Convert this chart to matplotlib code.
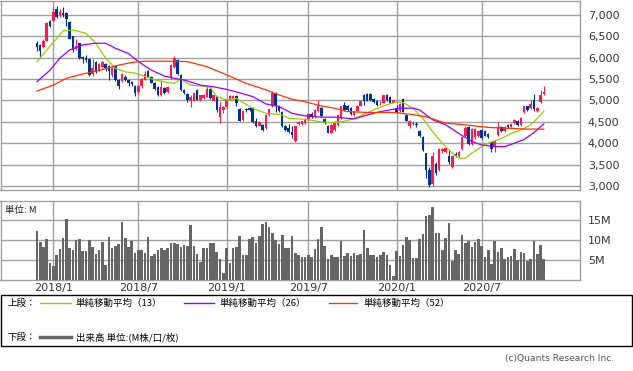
import pandas as pd
import matplotlib.pyplot as plt
from matplotlib.lines import Line2D
from matplotlib.patches import Rectangle

plt.rcParams['font.family'] = ['DejaVu Sans', 'Noto Sans CJK JP']

# weekly OHLC (yen)
opens = [6350, 6300, 6240, 6380, 6870, 6870, 7150, 7000, 7050, 7050,
         6840, 6510, 6200, 6340, 6020, 6000, 5960, 5620, 5900, 5700,
         5780, 5850, 5800, 5600, 5800, 5480, 5460, 5560, 5480, 5440,
         5340, 5190, 5330, 5490, 5700, 5560, 5420, 5310, 5130, 5300,
         5190, 5520, 5790, 5950, 5600, 5240, 5150, 4980, 4990, 5250,
         5010, 5060, 5090, 5280, 4990, 5090, 4620, 4780, 4850, 5040,
         5040, 5100, 4800, 4540, 4800, 4830, 4820, 4510, 4410, 4430,
         4360, 4660, 4870, 5170, 4870, 4740, 4400, 4350, 4270, 4060,
         4440, 4440, 4480, 4570, 4680, 4620, 4760, 4830, 4570, 4400,
         4250, 4310, 4430, 4590, 4900, 4880, 4830, 4650, 4760, 4880,
         5140, 5150, 5150, 5030, 4980, 4930, 4950, 5140, 5080, 4950,
         4820, 4750, 5030, 4660, 4410, 4460, 4460, 4290, 4140, 3760,
         3380, 3050, 3520, 3380, 3830, 3800, 3700, 3450, 3740, 3700,
         3860, 4160, 4390, 3980, 4140, 4170, 4320, 4280, 4220, 4020,
         3930, 4190, 4390, 4290, 4420, 4390, 4470, 4520, 4420, 4720,
         4860, 4830, 5000, 4760, 4970, 5150]
highs = [6390, 6330, 6440, 6840, 6880, 7180, 7200, 7150, 7190, 7060,
         6850, 6520, 6440, 6350, 6050, 6060, 6000, 5970, 5930, 5880,
         5920, 5870, 5820, 5780, 5830, 5500, 5640, 5600, 5500, 5460,
         5360, 5360, 5520, 5700, 5720, 5580, 5440, 5330, 5480, 5320,
         5340, 5850, 6050, 5980, 5620, 5260, 5170, 5120, 5200, 5270,
         5140, 5150, 5330, 5300, 5130, 5100, 4960, 4870, 5040, 5130,
         5120, 5140, 4820, 4780, 4820, 4850, 4840, 4580, 4520, 4450,
         4680, 4800, 5220, 5200, 4900, 4760, 4420, 4440, 4400, 4410,
         4510, 4530, 4590, 4700, 4720, 4790, 5000, 4850, 4590, 4420,
         4440, 4520, 4690, 4880, 4960, 4900, 4850, 4750, 4890, 5000,
         5160, 5180, 5170, 5050, 5000, 4990, 5140, 5160, 5100, 5020,
         4900, 4940, 5050, 4680, 4550, 4510, 4490, 4310, 4160, 3780,
         3450, 3800, 3560, 3900, 3900, 3920, 3850, 3720, 3800, 3820,
         4170, 4400, 4410, 4350, 4350, 4300, 4340, 4300, 4240, 4050,
         4080, 4500, 4410, 4400, 4440, 4480, 4570, 4540, 4620, 4880,
         4880, 5000, 5150, 4850, 5250, 5340]
lows = [6150, 6020, 6220, 6380, 6720, 6860, 6940, 6960, 6950, 6740,
        6430, 6130, 6180, 5970, 5870, 5900, 5580, 5580, 5650, 5680,
        5760, 5700, 5480, 5560, 5460, 5260, 5440, 5450, 5330, 5340,
        5100, 5150, 5300, 5470, 5540, 5400, 5240, 5110, 5110, 5150,
        5170, 5500, 5770, 5600, 5230, 5150, 4960, 4840, 4980, 5000,
        4990, 5040, 5080, 5040, 4980, 4740, 4470, 4700, 4830, 5020,
        5020, 4880, 4520, 4520, 4740, 4760, 4480, 4380, 4400, 4280,
        4340, 4640, 4850, 4740, 4720, 4390, 4280, 4230, 4120, 4040,
        4420, 4420, 4460, 4550, 4600, 4600, 4740, 4620, 4460, 4230,
        4230, 4290, 4410, 4570, 4760, 4760, 4660, 4630, 4740, 4860,
        4900, 4980, 4990, 4950, 4880, 4900, 4940, 4990, 4930, 4930,
        4700, 4730, 4720, 4510, 4360, 4430, 4390, 4150, 3820, 3190,
        2980, 3000, 3250, 3340, 3780, 3780, 3520, 3420, 3680, 3680,
        3840, 4140, 3960, 3960, 4100, 4150, 4110, 4160, 4130, 3800,
        3800, 4170, 4260, 4270, 4350, 4370, 4450, 4400, 4400, 4700,
        4760, 4810, 4750, 4720, 4930, 5130]
closes = [6260, 6150, 6400, 6820, 6740, 7070, 6960, 7080, 7000, 6900,
          6430, 6180, 6270, 5990, 5960, 5950, 5600, 5760, 5700, 5850,
          5900, 5750, 5700, 5760, 5480, 5340, 5620, 5470, 5420, 5390,
          5180, 5340, 5500, 5630, 5560, 5420, 5260, 5130, 5320, 5180,
          5320, 5830, 5990, 5630, 5250, 5180, 5010, 5090, 5180, 5010,
          5130, 5130, 5270, 5060, 5120, 4770, 4850, 4850, 5030, 5110,
          5100, 4930, 4530, 4760, 4770, 4770, 4500, 4400, 4500, 4300,
          4660, 4790, 5180, 4870, 4750, 4410, 4310, 4260, 4190, 4400,
          4490, 4510, 4570, 4680, 4620, 4770, 4860, 4640, 4480, 4250,
          4420, 4500, 4670, 4860, 4780, 4780, 4680, 4730, 4870, 4980,
          4990, 4990, 5000, 4970, 4900, 4950, 5120, 5010, 4950, 5000,
          4720, 4920, 4740, 4530, 4530, 4480, 4420, 4170, 3840, 3380,
          3020, 3690, 3300, 3870, 3870, 3900, 3550, 3700, 3700, 3800,
          4140, 4350, 3980, 4330, 4330, 4280, 4130, 4180, 4150, 3860,
          4060, 4390, 4280, 4380, 4370, 4460, 4540, 4420, 4600, 4860,
          4780, 4920, 4800, 4830, 5130, 5210]

# weekly volume (million shares)
volumes = [12.3, 9.6, 8.3, 10.2, 4.2, 3.6, 6.3, 7.7, 10.4, 15.2,
           7.9, 7.5, 10.0, 10.2, 7.3, 7.3, 10.0, 8.2, 6.5, 7.5,
           9.6, 3.75, 10.7, 8.0, 8.5, 9.0, 14.6, 10.4, 8.2, 9.8,
           6.7, 7.5, 7.5, 6.7, 10.7, 6.0, 6.5, 7.5, 7.9, 7.5,
           7.9, 9.2, 9.3, 8.9, 8.2, 8.8, 8.5, 13.75, 8.5, 6.4,
           4.6, 7.9, 7.9, 9.3, 9.3, 7.0, 5.2, 1.8, 7.9, 4.3,
           7.9, 8.2, 11.0, 6.25, 6.25, 10.2, 10.7, 9.3, 11.0, 14.0,
           14.6, 13.3, 11.7, 10.0, 9.0, 11.25, 7.9, 7.9, 11.0, 6.8,
           6.25, 5.7, 5.7, 6.25, 5.8, 7.7, 10.2, 13.3, 8.5, 5.2,
           6.25, 5.8, 5.8, 9.8, 6.0, 6.8, 6.0, 6.8, 6.25, 6.5,
           12.4, 7.9, 6.25, 6.25, 5.7, 6.25, 7.1, 6.25, 3.75, 1.0,
           7.3, 6.0, 8.75, 10.7, 10.0, 5.4, 5.4, 10.2, 11.5, 16.0,
           16.25, 18.2, 11.8, 11.7, 7.6, 10.5, 14.3, 4.8, 7.5, 6.5,
           11.25, 9.3, 9.8, 8.3, 9.6, 10.2, 8.5, 5.8, 7.5, 4.0,
           9.8, 7.1, 7.9, 5.2, 5.7, 6.0, 7.7, 5.0, 6.9, 6.7,
           4.8, 5.2, 9.8, 6.5, 8.75, 5.2]

# moving averages (week index, price)
ma13_idx = [0, 8, 11, 15, 18, 21, 24, 27, 30, 34, 36, 40, 42, 44, 47, 50, 53, 55,
            58, 61, 63, 66, 70, 73, 75, 77, 82, 87, 90, 93, 96, 99, 103, 107, 110,
            112, 115, 118, 121, 124, 127, 129, 131, 133, 136, 138, 142, 145, 148,
            151, 153, 155]
ma13_val = [5910, 6630, 6650, 6570, 6340, 5990, 5750, 5670, 5640, 5540, 5480, 5420,
            5400, 5500, 5360, 5340, 5310, 5090, 5010, 5050, 4950, 4820, 4700, 4680,
            4660, 4580, 4560, 4500, 4480, 4500, 4550, 4640, 4780, 4900, 4970, 4950,
            4820, 4580, 4270, 4000, 3770, 3650, 3650, 3770, 3920, 4000, 4110, 4230,
            4310, 4430, 4580, 4750]
ma26_idx = [0, 4, 7, 10, 14, 18, 21, 24, 28, 31, 35, 39, 42, 45, 50, 54, 58, 62,
            66, 70, 74, 78, 82, 87, 91, 97, 101, 105, 111, 115, 117, 121, 125, 129,
            133, 136, 140, 143, 146, 149, 152, 155]
ma26_val = [5440, 5710, 5990, 6180, 6300, 6340, 6340, 6220, 6100, 5910, 5710, 5570,
            5520, 5480, 5360, 5320, 5260, 5180, 5090, 4920, 4860, 4700, 4640, 4610,
            4610, 4570, 4660, 4740, 4820, 4820, 4780, 4550, 4430, 4230, 4040, 3960,
            3920, 3920, 4000, 4090, 4250, 4450]
ma52_idx = [0, 5, 9, 14, 19, 24, 29, 33, 40, 46, 52, 58, 64, 70, 74, 78, 82, 87,
            91, 95, 101, 109, 114, 119, 125, 131, 138, 144, 150, 155]
ma52_val = [5220, 5360, 5520, 5620, 5700, 5810, 5890, 5920, 5920, 5910, 5790, 5600,
            5400, 5250, 5130, 5030, 4970, 4870, 4820, 4740, 4720, 4720, 4680, 4620,
            4470, 4430, 4370, 4350, 4330, 4330]

price_ticks = [3000, 3500, 4000, 4500, 5000, 5500, 6000, 6500, 7000]
vol_ticks = [5, 10, 15]
vol_labels = ['5M', '10M', '15M']

UP = '#ff1a4b'
DOWN = '#003399'
GRID = '#a0a0a0'
W, H = 633, 371


def box(x0, y0, x1, y1):
    return [x0 / W, 1 - y1 / H, (x1 - x0) / W, (y1 - y0) / H]


n = len(closes)
x = list(range(n))
dates = pd.date_range('2017-11-27', periods=n, freq='W-MON')
tick_idx = [i for i in range(1, n)
            if dates[i].month != dates[i - 1].month and dates[i].month in (1, 7)]
tick_lab = [f'{dates[i].year}/{dates[i].month}' for i in tick_idx]

fig = plt.figure(figsize=(6.33, 3.71), dpi=100)
ax = fig.add_axes(box(0.5, 0.5, 579.5, 190))
axv = fig.add_axes(box(0.5, 201, 579.5, 280), sharex=ax)

# candles
cols = [UP if c >= o else DOWN for o, c in zip(opens, closes)]
ax.vlines(x, lows, highs, colors=cols, lw=0.8, zorder=3)
body_lo = [min(o, c) for o, c in zip(opens, closes)]
body_h = [max(abs(c - o), 15) for o, c in zip(opens, closes)]
ax.bar(x, body_h, bottom=body_lo, width=0.78, color=cols, lw=0, zorder=3)

# moving averages
ax.plot(ma13_idx, ma13_val, color='#99cc00', lw=0.9, zorder=4)
ax.plot(ma26_idx, ma26_val, color='#9900ff', lw=0.9, zorder=4)
ax.plot(ma52_idx, ma52_val, color='#ff3300', lw=0.9, zorder=4)

# volume
axv.bar(x, volumes, width=0.8, color='#666666', lw=0, zorder=3)

# x range: week 0 at px 36.95, 3.27 px per week
ax.set_xlim((0.5 - 36.95) / 3.27, (579.5 - 36.95) / 3.27)
ax.set_ylim(2906, 7339)
axv.set_ylim(0, 19.75)

for a in (ax, axv):
    a.set_xticks(tick_idx)
    a.grid(True, color=GRID, lw=1.0, zorder=0)
    a.yaxis.tick_right()
    a.tick_params(length=0, labelsize=8, labelcolor='#333333')
    for s in a.spines.values():
        s.set_color(GRID)
        s.set_linewidth(1.0)

ax.set_yticks(price_ticks)
ax.set_yticklabels([f'{v:,}' for v in price_ticks])
ax.tick_params(axis='y', pad=6)
ax.tick_params(axis='x', labelbottom=False)

axv.set_yticks(vol_ticks)
axv.set_yticklabels(vol_labels)
axv.tick_params(axis='y', pad=6)
axv.set_xticklabels(tick_lab)
axv.tick_params(axis='x', pad=2.5)

jp = ['Noto Sans CJK JP', 'DejaVu Sans']
fig.text(5 / W, 1 - 210 / H, '単位: M', family=jp, fontsize=6.8, va='center', color='#222222')

# legend box
fig.add_artist(Rectangle((0.5 / W, 1 - 346 / H), 631.5 / W, 51 / H, fill=False,
                         edgecolor='black', lw=1.0, transform=fig.transFigure))
y1 = 1 - 303 / H
y2 = 1 - 337 / H
fig.text(8 / W, y1, '上段：', family=jp, fontsize=6.8, va='center')
for (x0, x1, tx), col, lab in zip([(40, 71, 76), (184, 214, 219), (329, 357, 363)],
                                  ['#99cc00', '#9900ff', '#ff3300'],
                                  ['単純移動平均（13）', '単純移動平均（26）', '単純移動平均（52）']):
    fig.add_artist(Line2D([x0 / W, x1 / W], [y1, y1], color=col, lw=1.0))
    fig.text(tx / W, y1, lab, family=jp, fontsize=6.8, va='center')
fig.text(8 / W, y2, '下段：', family=jp, fontsize=6.8, va='center')
fig.add_artist(Line2D([40 / W, 71 / W], [y2, y2], color='#666666', lw=2.5))
fig.text(76 / W, y2, '出来高 単位:(M株/口/枚)', family=jp, fontsize=6.8, va='center')

fig.text(614 / W, 1 - 358 / H, '(c)Quants Research Inc.', fontsize=6.6,
         color='#555555', ha='right', va='center')

fig.savefig('out.png', dpi=100)
